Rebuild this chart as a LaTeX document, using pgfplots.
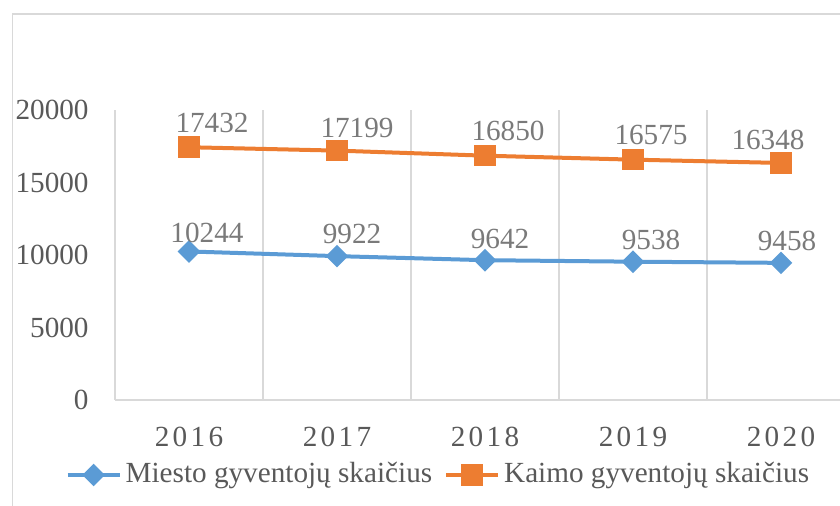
\documentclass[border=0pt]{standalone}
\usepackage{fontspec}
\setmainfont{Liberation Serif}
\usepackage{pgfplots}
\usepackage{pgfplotstable}
\pgfplotsset{compat=1.18}
\definecolor{cblue}{HTML}{5B9BD5}
\definecolor{corange}{HTML}{ED7D31}
\definecolor{tgray}{HTML}{595959}
\definecolor{lgray}{HTML}{7A7A7A}
\definecolor{ggray}{HTML}{D9D9D9}
\pgfplotstableread{
x y dx dy
0 10244 9 3.5
1 9922 7.5 5
2 9642 7.5 4.5
3 9538 9 5
4 9458 3 5
}\miesto
\pgfplotstableread{
x y dx dy
0 17432 11.5 6
1 17199 10 5.5
2 16850 11.5 6.25
3 16575 9 6.5
4 16348 -6.5 5.5
}\kaimo
\def\sp{\kern1.67pt}
\begin{document}
\fontsize{14.6pt}{17pt}\selectfont
\begin{tikzpicture}
\path[use as bounding box] (0,0) rectangle (420pt,-253pt);
\clip (0,0) rectangle (420pt,-253pt);
\draw[ggray,line width=0.7pt] (6.25pt,-7pt) rectangle (450pt,-280pt);
\begin{axis}[
  at={(57.5pt,-200pt)}, anchor=south west,
  scale only axis, width=370pt, height=145pt,
  xmin=-0.5, xmax=4.5, ymin=0, ymax=20000,
  xtick={0,1,2,3,4},
  xticklabels={2\sp0\sp1\sp6, 2\sp0\sp1\sp7, 2\sp0\sp1\sp8, 2\sp0\sp1\sp9, 2\sp0\sp2\sp0},
  minor xtick={-0.5,0.5,1.5,2.5,3.5,4.5},
  xminorgrids=true,
  minor grid style={ggray,line width=0.6pt},
  ytick={0,5000,10000,15000,20000},
  scaled y ticks=false,
  major tick length=0pt, minor tick length=0pt,
  axis line style={draw=none},
  tick label style={text=tgray},
  xticklabel style={anchor=north,inner sep=0pt,yshift=-13.5pt},
  yticklabel style={anchor=east,inner sep=0pt,xshift=-13pt},
  /pgf/number format/1000 sep={},
  /pgf/number format/assume math mode=true,
  clip=false,
  legend columns=2,
  legend style={draw=none, fill=none, at={(rel axis cs:-0.0754,-0.2586)}, anchor=west,
    nodes={text=tgray}},
  legend image code/.code={\draw[mark repeat=2,mark phase=2] plot coordinates {(0pt,0pt)(13pt,0pt)(26pt,0pt)};},
  nodes near coords,
  every node near coord/.append style={anchor=south, inner sep=0pt, text=lgray, xshift=\dx pt, yshift=\dy pt},
  visualization depends on={\thisrow{dx} \as \dx},
  visualization depends on={\thisrow{dy} \as \dy},
]
\draw[ggray,line width=0.75pt] (rel axis cs:0,0) -- (rel axis cs:1,0);
\addplot[cblue, line width=2pt, mark=square*, mark size=3pt,
  mark options={rotate=45, draw=none, fill=cblue}] table[x=x,y=y] {\miesto};
\addlegendentry{Miesto gyventojų skaičius\kern4pt}
\addplot[corange, line width=2pt, mark=square*, mark size=4.4pt,
  mark options={draw=none, fill=corange}] table[x=x,y=y] {\kaimo};
\addlegendentry{Kaimo gyventojų skaičius}
\end{axis}
\end{tikzpicture}
\end{document}
